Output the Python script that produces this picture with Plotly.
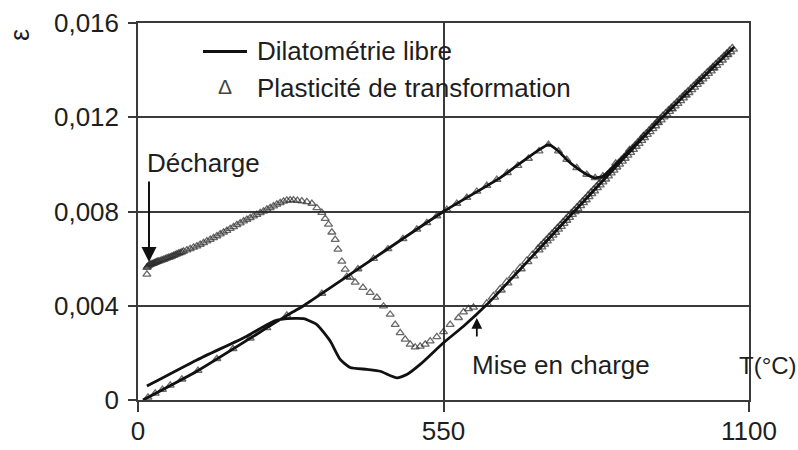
import plotly.graph_objects as go

# ---- Free dilatometry (solid line): heating then cooling ----
dil_heat_T = [9, 106, 268, 298, 550, 652, 739, 757, 772, 790, 808, 823, 837, 943, 1072]
dil_heat_eps = [0.0, 0.00122, 0.00359, 0.0040, 0.0080, 0.00943, 0.01084, 0.01056, 0.01020,
                0.00985, 0.00957, 0.00943, 0.00950, 0.01198, 0.01495]

dil_cool_T = [1072, 943, 805, 628, 586, 550, 508, 484, 466, 436, 412, 382, 364, 346, 322,
              298, 268, 244, 196, 106, 16]
dil_cool_eps = [0.01495, 0.01198, 0.00850, 0.00405, 0.00313, 0.00243, 0.00151, 0.00108,
                0.00094, 0.00122, 0.00130, 0.00138, 0.00172, 0.00250, 0.00320, 0.00345,
                0.00345, 0.00334, 0.00271, 0.00170, 0.00059]

# ---- Transformation plasticity test (triangles) ----
tp_heat_T = [18, 31, 44, 58, 79, 108, 142, 171, 202, 232, 268, 331, 376, 396, 424, 450, 477,
             502, 520, 538, 556, 574, 592, 610, 628, 646, 665, 684, 703, 722, 739, 757, 772,
             790, 808, 823, 837, 860, 885, 910, 935, 960, 985, 1010, 1035, 1060]
tp_heat_eps = [0.00011, 0.00028, 0.00044, 0.00062, 0.00088, 0.00125, 0.00175, 0.00217,
               0.00262, 0.00306, 0.00359, 0.00452, 0.00524, 0.00556, 0.00600, 0.00641,
               0.00684, 0.00724, 0.00752, 0.00781, 0.00808, 0.00834, 0.00859, 0.00885,
               0.00910, 0.00935, 0.00964, 0.00995, 0.01025, 0.01056, 0.01084, 0.01056,
               0.01020, 0.00985, 0.00957, 0.00943, 0.00950, 0.01004, 0.01062, 0.01121,
               0.01179, 0.01237, 0.01295, 0.01352, 0.01410, 0.01467]

# cooling in the austenite range (dense sampling)
tp_aus_T = [1070, 1065, 1060, 1055, 1050, 1045, 1040, 1035, 1030, 1025, 1020, 1015, 1010,
            1005, 1000, 995, 990, 985, 980, 975, 970, 965, 960, 955, 950, 945, 940, 935,
            930, 925, 920, 915, 910, 905, 900, 895, 890, 885, 880, 875, 870, 865, 860, 855,
            850, 845, 840, 835, 830, 825, 820, 815, 810, 805, 800, 795, 790, 785, 780, 775,
            770, 765, 760, 755, 750, 745, 740, 735, 730, 725, 720, 710, 700, 688, 676, 664,
            652, 640, 628]
tp_aus_eps = [0.01490, 0.01479, 0.01467, 0.01456, 0.01444, 0.01433, 0.01421, 0.01410,
              0.01398, 0.01387, 0.01375, 0.01364, 0.01352, 0.01341, 0.01329, 0.01318,
              0.01306, 0.01295, 0.01283, 0.01272, 0.01260, 0.01249, 0.01237, 0.01226,
              0.01214, 0.01203, 0.01190, 0.01178, 0.01165, 0.01153, 0.01140, 0.01128,
              0.01115, 0.01103, 0.01090, 0.01078, 0.01065, 0.01052, 0.01040, 0.01027,
              0.01015, 0.01002, 0.00990, 0.00977, 0.00965, 0.00952, 0.00939, 0.00927,
              0.00914, 0.00902, 0.00889, 0.00877, 0.00864, 0.00851, 0.00839, 0.00826,
              0.00814, 0.00801, 0.00789, 0.00776, 0.00764, 0.00751, 0.00738, 0.00726,
              0.00713, 0.00701, 0.00688, 0.00676, 0.00663, 0.00651, 0.00638, 0.00613,
              0.00588, 0.00558, 0.00528, 0.00498, 0.00468, 0.00438, 0.00407]

# cooling under load, then unloading at room temperature
tp_load_T = [604, 595, 586, 577, 562, 550, 538, 526, 517, 508, 499, 490, 481, 472, 463, 454,
             442, 430, 418, 405, 391, 382, 373, 367, 360, 355, 349, 343, 337, 331, 322, 313,
             304, 295, 287, 280, 274, 268, 262, 256, 250, 244, 238, 232, 226, 220, 214, 208,
             202, 196, 190, 184, 178, 172, 166, 160, 154, 148, 142, 136, 130, 124, 118, 112,
             106, 100, 94, 88, 82, 79, 76, 73, 70, 67, 64, 61, 58, 55, 52, 49, 46, 43, 40,
             37, 35, 33, 31, 29, 27, 25, 23, 21, 19, 17, 16,
             16]
tp_load_eps = [0.00393, 0.00387, 0.00373, 0.00349, 0.00320, 0.00289, 0.00268, 0.00250,
               0.00236, 0.00228, 0.00224, 0.00236, 0.00257, 0.00285, 0.00320, 0.00363,
               0.00398, 0.00435, 0.00456, 0.00477, 0.00499, 0.00520, 0.00554, 0.00588,
               0.00639, 0.00681, 0.00712, 0.00745, 0.00770, 0.00795, 0.00815, 0.00834,
               0.00841, 0.00844, 0.00846, 0.00848, 0.00848, 0.00847, 0.00843, 0.00837,
               0.00830, 0.00823, 0.00816, 0.00809, 0.00801, 0.00794, 0.00787, 0.00780,
               0.00773, 0.00766, 0.00759, 0.00751, 0.00743, 0.00735, 0.00727, 0.00719,
               0.00712, 0.00704, 0.00696, 0.00688, 0.00681, 0.00674, 0.00667, 0.00660,
               0.00653, 0.00648, 0.00642, 0.00636, 0.00631, 0.00628, 0.00625, 0.00622,
               0.00619, 0.00616, 0.00613, 0.00610, 0.00607, 0.00604, 0.00602, 0.00599,
               0.00596, 0.00594, 0.00591, 0.00589, 0.00587, 0.00585, 0.00583, 0.00581,
               0.00579, 0.00578, 0.00576, 0.00574, 0.00570, 0.00565, 0.00562,
               0.00533]

# ---- Axes ----
x_tick_vals = [0, 550, 1100]
x_tick_text = ["0", "550", "1100"]
y_tick_vals = [0, 0.004, 0.008, 0.012, 0.016]
y_tick_text = ["0", "0,004", "0,008", "0,012", "0,016"]

W, H = 798, 450
ML, MR, MT, MB = 138, 49, 23, 50
PW, PH = W - ML - MR, H - MT - MB

FONT = "Liberation Sans, Arial, sans-serif"
INK = "#1e1e1e"
GRID = "#3a3a3a"


def px(x):
    return (x - ML) / PW


def py(y):
    return (H - MB - y) / PH


# overlapping markers in the austenite range are drawn a little heavier
tp_sizes = [7] * len(tp_heat_T) + [9] * len(tp_aus_T) + [7] * len(tp_load_T)

fig = go.Figure()

fig.add_trace(go.Scatter(
    x=tp_heat_T + tp_aus_T + tp_load_T, y=tp_heat_eps + tp_aus_eps + tp_load_eps,
    mode="markers", name="Plasticité de transformation",
    marker=dict(symbol="triangle-up-open", size=tp_sizes, color="#2a2a2a",
                line=dict(width=1.3, color="#2a2a2a")),
    showlegend=False, hoverinfo="skip",
))

fig.add_trace(go.Scatter(
    x=dil_heat_T + dil_cool_T, y=dil_heat_eps + dil_cool_eps,
    mode="lines", name="Dilatométrie libre",
    line=dict(color="#111111", width=2.8, shape="spline", smoothing=0.5),
    showlegend=False, hoverinfo="skip",
))

shapes = [
    # legend panel hides the gridline behind it
    dict(type="rect", xref="paper", yref="paper", layer="between",
         x0=px(190), x1=px(600), y0=py(106), y1=py(35),
         fillcolor="white", line=dict(width=0)),
    dict(type="line", xref="paper", yref="paper",
         x0=px(203), x1=px(247), y0=py(51.5), y1=py(51.5),
         line=dict(color="#111111", width=2.8)),
]

txt = dict(family=FONT, size=26, color=INK)
annotations = [
    dict(text="Dilatométrie libre", xref="paper", yref="paper", x=px(255), y=py(51),
         xanchor="left", yanchor="middle", showarrow=False, font=txt),
    dict(text="Plasticité de transformation", xref="paper", yref="paper", x=px(255), y=py(88),
         xanchor="left", yanchor="middle", showarrow=False, font=txt),
    dict(text="Δ", xref="paper", yref="paper", x=px(225), y=py(86),
         xanchor="center", yanchor="middle", showarrow=False,
         font=dict(family=FONT, size=21, color="#444444")),
    dict(text="ε", xref="paper", yref="paper", x=px(20), y=py(35),
         xanchor="center", yanchor="middle", showarrow=False, textangle=-90,
         font=dict(family=FONT, size=27, color=INK)),
    dict(text="Décharge", xref="paper", yref="paper", x=px(145), y=py(163),
         xanchor="left", yanchor="middle", showarrow=False, font=txt),
    dict(text="Mise en charge", xref="paper", yref="paper", x=px(470), y=py(365),
         xanchor="left", yanchor="middle", showarrow=False, font=txt),
    dict(text="T(°C)", xref="paper", yref="paper", x=px(737), y=py(365),
         xanchor="left", yanchor="middle", showarrow=False,
         font=dict(family=FONT, size=24, color=INK)),
    # arrows
    dict(text="", x=19.8, y=0.00586, xref="x", yref="y", showarrow=True,
         ax=0, ay=-82, arrowhead=2, arrowsize=1.5, arrowwidth=2, arrowcolor="#111111"),
    dict(text="", x=610, y=0.00348, xref="x", yref="y", showarrow=True,
         ax=0, ay=20, arrowhead=2, arrowsize=1.2, arrowwidth=1.8, arrowcolor="#111111"),
]

axis_common = dict(
    showline=True, linecolor=GRID, linewidth=1.5, mirror=True,
    showgrid=True, gridcolor=GRID, gridwidth=1.5,
    ticks="outside", tickcolor=GRID, tickwidth=1.5,
    zeroline=False, automargin=False,
    tickfont=dict(family=FONT, size=26, color=INK),
)

fig.update_layout(
    width=W, height=H,
    margin=dict(l=ML, r=MR, t=MT, b=MB, pad=0),
    paper_bgcolor="white", plot_bgcolor="white",
    showlegend=False,
    xaxis=dict(range=[0, 1100], tickvals=x_tick_vals, ticktext=x_tick_text,
               ticklen=10, ticklabelstandoff=-3, **axis_common),
    yaxis=dict(range=[0, 0.016], tickvals=y_tick_vals, ticktext=y_tick_text,
               ticklen=8, ticklabelstandoff=4, **axis_common),
    shapes=shapes,
    annotations=annotations,
)

fig.write_html("out.html")
